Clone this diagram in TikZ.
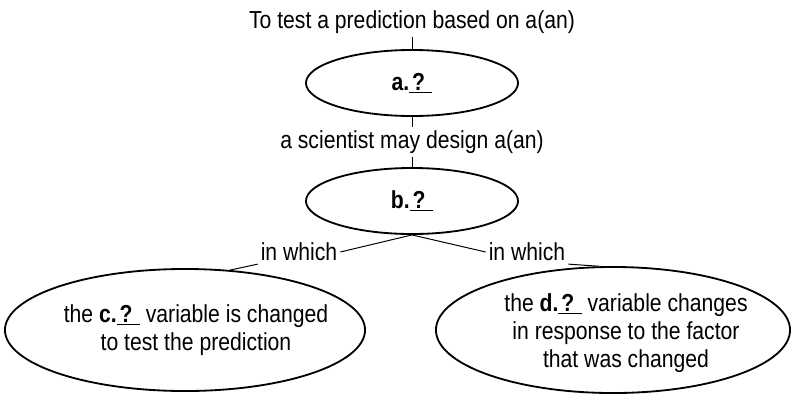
\documentclass[tikz,border=0pt]{standalone}
\usepackage{fontspec}
\setmainfont{Liberation Sans}[FakeStretch=0.86]
\usepackage{tikz}
\usetikzlibrary{positioning, shapes.geometric}
\newcommand{\qblank}{\underline{\hspace{0.12em}?\hspace{0.3em}}}

\begin{document}
\begin{tikzpicture}[x=0.025cm, y=-0.025cm,
      txt/.style={font=\fontsize{17.5}{20}\selectfont, inner sep=2pt, align=center},
      oval/.style={ellipse, draw, line width=1.3pt, inner sep=0pt, font=\fontsize{17.5}{20}\selectfont, align=center},
      lnk/.style={line width=0.7pt}]
    \useasboundingbox (0,0) rectangle (794,396);
    \node[txt] (top) at (412,22) {To test a prediction based on a(an)};
    \node[oval, minimum width=5.3cm, minimum height=1.65cm] (a) at (412,83) {\textbf{a.\qblank}};
    \node[txt] (mid) at (412,142) {a scientist may design a(an)};
    \node[oval, minimum width=5.3cm, minimum height=1.65cm] (b) at (412,201) {\textbf{b.\qblank}};
    \node[txt] (inl) at (299,252) {in which};
    \node[txt] (inr) at (527,252) {in which};
    \node[oval, minimum width=9cm, minimum height=3.05cm] (c) at (185,330) {};
    \node[txt] (ctx) at (196,330) {the \textbf{c.\qblank} variable is changed\\to test the prediction};
    \node[oval, minimum width=8.85cm, minimum height=3.15cm] (d) at (613,330) {};
    \node[txt] (dtx) at (626,333) {the \textbf{d.\qblank} variable changes\\in response to the factor\\that was changed};
    \draw[lnk] (top) -- (a); \draw[lnk] (a) -- (mid); \draw[lnk] (mid) -- (b);
    \draw[lnk] (b.south) -- (inl.east); \draw[lnk] (inl.south west) -- (c.53);
    \draw[lnk] (b.south) -- (inr.west); \draw[lnk] (inr.south east) -- (d.102);
  \end{tikzpicture}
\end{document}
